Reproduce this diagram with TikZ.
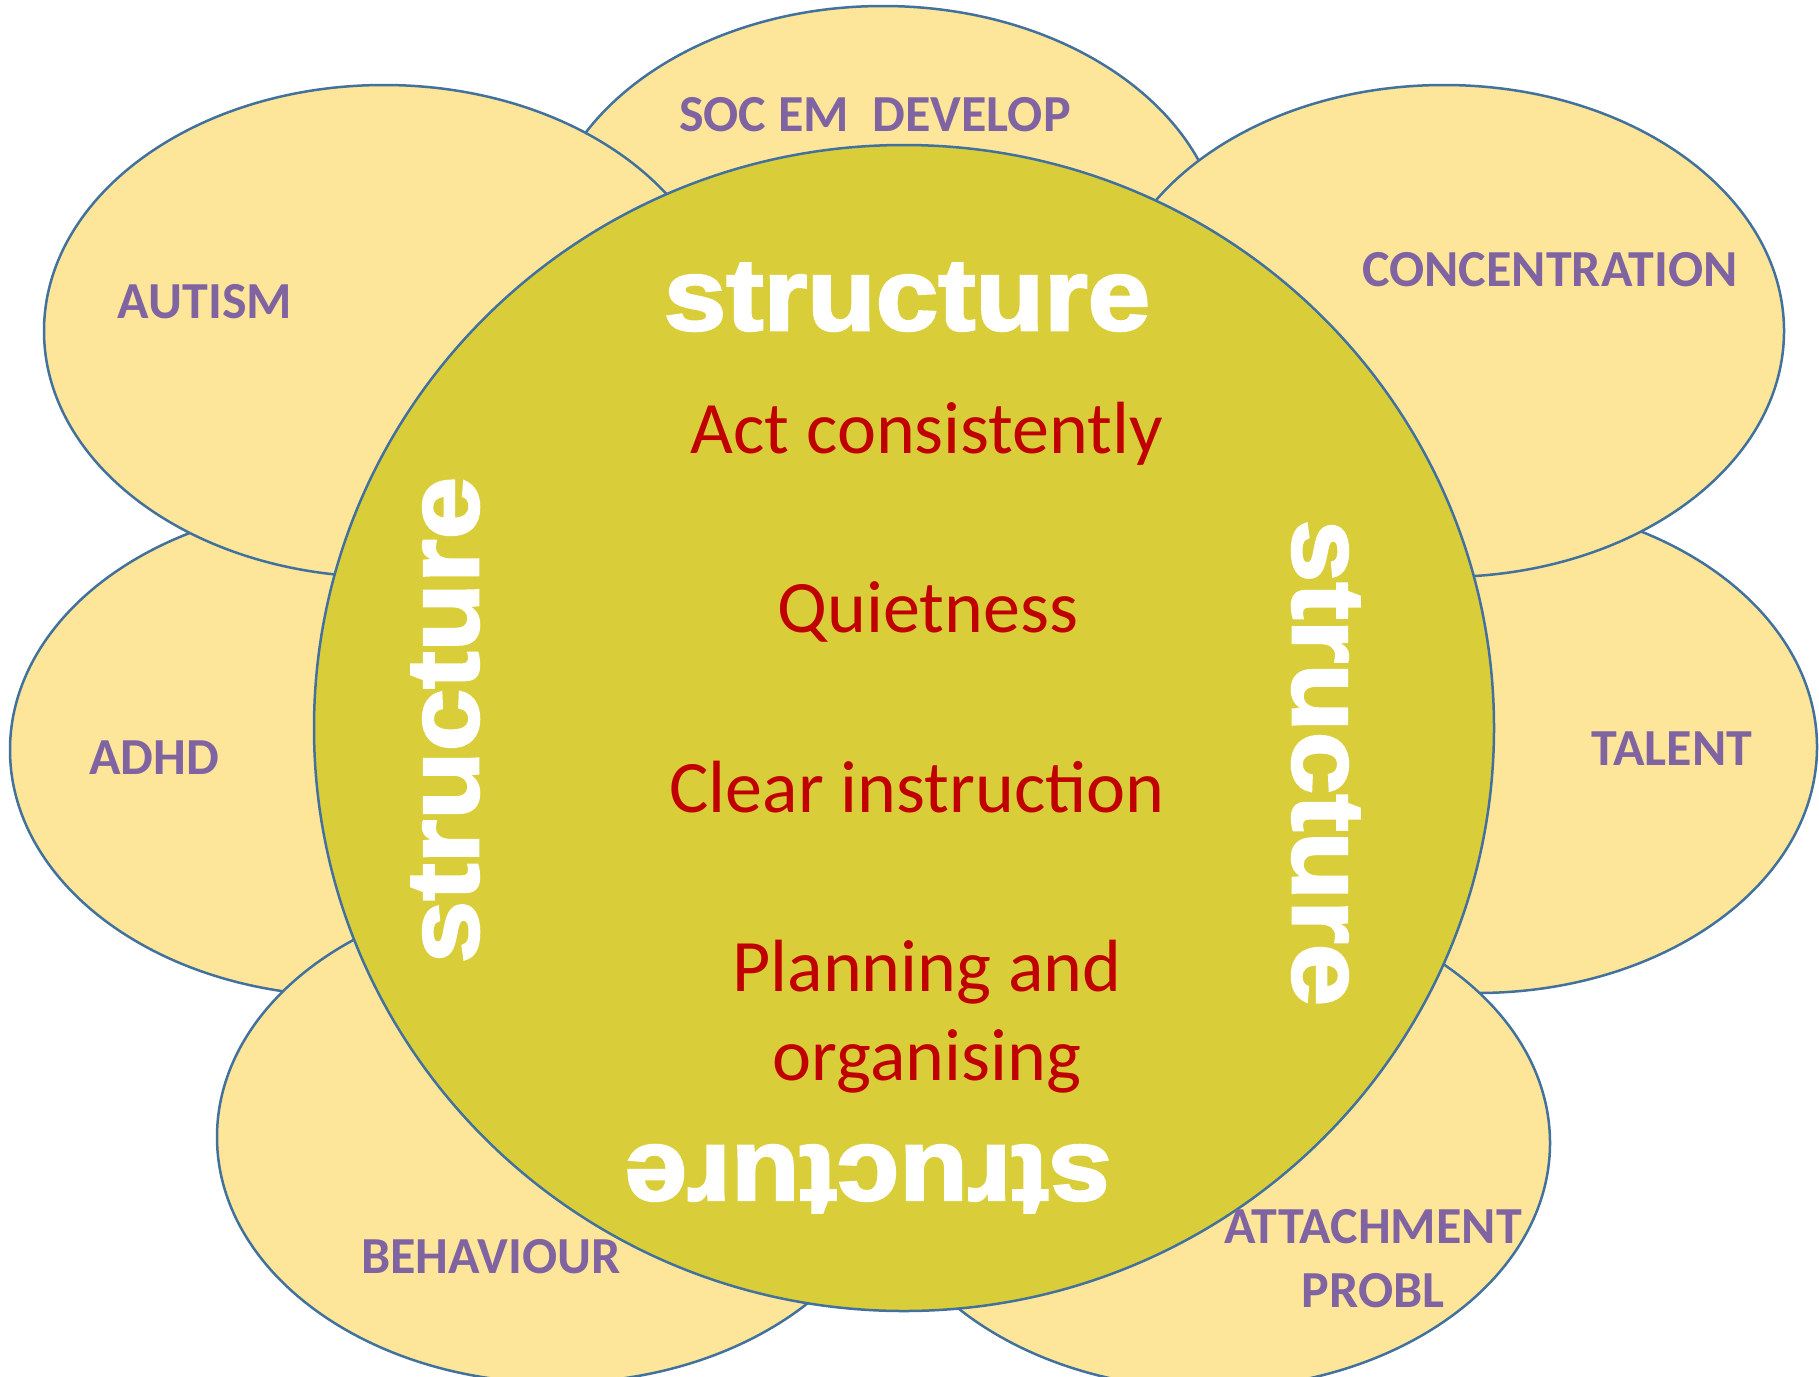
\documentclass[tikz,border=0pt]{standalone}
\usepackage{fontspec}
\setmainfont{Carlito}
\newfontfamily\heavyfont[FakeBold=2.5,FakeStretch=1.1]{Liberation Sans Bold}
\usetikzlibrary{shapes.geometric}
\definecolor{petalfill}{HTML}{FDE699}
\definecolor{hubfill}{HTML}{D9CE39}
\definecolor{rimblue}{HTML}{41719C}
\definecolor{labelpurple}{HTML}{8064A2}
\definecolor{itemred}{HTML}{C00000}

\begin{document}
\begin{tikzpicture}[x=1pt, y=-1pt,
        petal/.style={ellipse, draw=rimblue, fill=petalfill, line width=2.5pt, minimum width=680pt, minimum height=492pt, inner sep=0pt},
        hub/.style={ellipse, draw=rimblue, fill=hubfill, line width=2.5pt, minimum width=1180pt, minimum height=1166pt, inner sep=0pt},
        problem/.style={anchor=base, align=center, text=labelpurple, font=\fontsize{52}{64}\selectfont\bfseries, inner sep=0pt},
        advice/.style={anchor=base, align=center, text=itemred, font=\fontsize{74}{89}\selectfont, inner sep=0pt},
        banner/.style={anchor=base, text=white, font=\fontsize{102}{120}\heavyfont, inner sep=0pt}]
        \useasboundingbox (0, 0) rectangle (1819, 1376);
        % petals at the back
        \node at (883, 252) [petal] (socPetal) {};
        \node at (350, 750) [petal] (adhdPetal) {};
        \node at (1477, 747) [petal] (talentPetal) {};
        % petals in front
        \node at (384, 331) [petal] (autismPetal) {};
        \node at (1444, 331) [petal] (concPetal) {};
        \node at (557, 1137) [petal] (behavPetal) {};
        \node at (1210, 1143) [petal] (attachPetal) {};
        \node at (904, 728) [hub] (hub) {};
        % labels on the petals
        \node at (875, 131) [problem] (socLabel) {SOC EM\ \ DEVELOP};
        \node at (205, 318) [problem] (autismLabel) {AUTISM};
        \node at (1550, 286) [problem] (concLabel) {CONCENTRATION};
        \node at (154, 774) [problem] (adhdLabel) {ADHD};
        \node at (1672, 765) [problem] (talentLabel) {TALENT};
        \node at (491, 1273) [problem] (behavLabel) {BEHAVIOUR};
        \node at (1373, 1307) [problem] (attachLabel) {ATTACHMENT\\PROBL};
        % the centre
        \node at (907, 330) [banner] (structN) {structure};
        \node at (478, 720) [banner, rotate=90] (structW) {structure};
        \node at (1293, 763) [banner, rotate=-90] (structE) {structure};
        \node at (868, 1146) [banner, rotate=180] (structS) {structure};
        \node at (927, 453) [advice] (actText) {Act consistently};
        \node at (928, 632) [advice] (quietText) {Quietness};
        \node at (917, 812) [advice] (clearText) {Clear instruction};
        \node at (927, 1080) [advice] (planText) {Planning and\\organising};
    \end{tikzpicture}
\end{document}
